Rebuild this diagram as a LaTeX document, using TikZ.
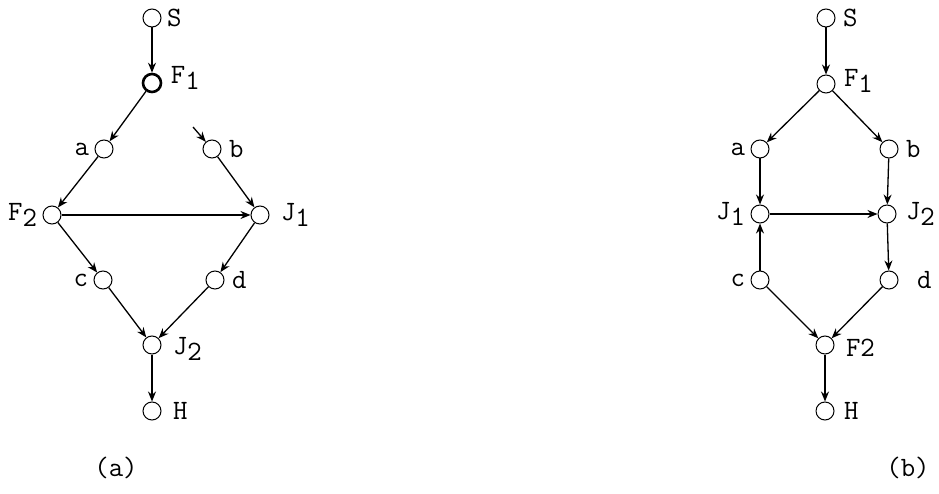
\documentclass[tikz,border=0pt]{standalone}
\usepackage{fontspec}
\usetikzlibrary{arrows.meta}
\newcommand{\sub}[1]{\raisebox{-6pt}{#1}}
\newcommand{\labfont}{\ttfamily\fontsize{28}{30}\selectfont}
\begin{document}
\begin{tikzpicture}[x=1pt,y=-1pt,
    every node/.style={font=\labfont},
    every label/.style={font=\labfont},
    vert/.style={draw, circle, minimum size=18pt, inner sep=0pt, line width=1pt},
    lab/.style={label distance=2pt},
    arr/.style={-{Stealth[length=10pt,width=8pt]}, line width=1.3pt}]
  \useasboundingbox (0,0) rectangle (939,494);
  % (a)
  \node (aS) [vert, label={[lab]right:S}] at (152,18) {};
  \node (aF1) [vert, line width=2.6pt, label={[lab, label distance=5pt, yshift=5pt]right:F\sub{1}}] at (152,83) {};
  \node (aA) [vert, label={[lab]left:a}] at (104,149) {};
  \node (aB) [vert, label={[lab, label distance=4pt]right:b}] at (212,149) {};
  \node (aF2) [vert, label={[lab]left:F\sub{2}}] at (52,215) {};
  \node (aJ1) [vert, label={[lab, label distance=8pt]right:J\sub{1}}] at (260,215) {};
  \node (aC) [vert, label={[lab]left:c}] at (103,280) {};
  \node (aD) [vert, label={[lab, label distance=4pt]right:d}] at (215,280) {};
  \node (aJ2) [vert, label={[lab, label distance=8pt, yshift=-4pt]right:J\sub{2}}] at (152,345) {};
  \node (aH) [vert, label={[lab, label distance=8pt]right:H}] at (152,411) {};
  \coordinate (bIn) at (193,127);
  \node (capa) at (116,468) {(a)};
  \draw[arr] (aS) -- (aF1);
  \draw[arr] (aF1) -- (aA);
  \draw[arr] (aA) -- (aF2);
  \draw[arr] (bIn) -- (aB);
  \draw[arr] (aB) -- (aJ1);
  \draw[arr] (aF2) -- (aJ1);
  \draw[arr] (aF2) -- (aC);
  \draw[arr] (aJ1) -- (aD);
  \draw[arr] (aC) -- (aJ2);
  \draw[arr] (aD) -- (aJ2);
  \draw[arr] (aJ2) -- (aH);
  % (b)
  \node (bS) [vert, label={[lab, label distance=4pt]right:S}] at (826,18) {};
  \node (bF1) [vert, label={[lab, label distance=5pt, yshift=3pt]right:F\sub{1}}] at (826,84) {};
  \node (bA) [vert, label={[lab]left:a}] at (760,149) {};
  \node (bB) [vert, label={[lab, label distance=4pt]right:b}] at (889,149) {};
  \node (bJ1) [vert, label={[lab]left:J\sub{1}}] at (760,214) {};
  \node (bJ2) [vert, label={[lab, label distance=6pt]right:J\sub{2}}] at (887,214) {};
  \node (bC) [vert, label={[lab]left:c}] at (760,280) {};
  \node (bD) [vert, label={[lab, label distance=15pt]right:d}] at (889,280) {};
  \node (bF2) [vert, label={[lab, label distance=8pt, yshift=-3pt]right:F2}] at (825,345) {};
  \node (bH) [vert, label={[lab, label distance=6pt]right:H}] at (825,411) {};
  \node (capb) at (908,468) {(b)};
  \draw[arr] (bS) -- (bF1);
  \draw[arr] (bF1) -- (bA);
  \draw[arr] (bF1) -- (bB);
  \draw[arr] (bA) -- (bJ1);
  \draw[arr] (bB) -- (bJ2);
  \draw[arr] (bJ1) -- (bJ2);
  \draw[arr] (bC) -- (bJ1);
  \draw[arr] (bJ2) -- (bD);
  \draw[arr] (bC) -- (bF2);
  \draw[arr] (bD) -- (bF2);
  \draw[arr] (bF2) -- (bH);
\end{tikzpicture}
\end{document}
